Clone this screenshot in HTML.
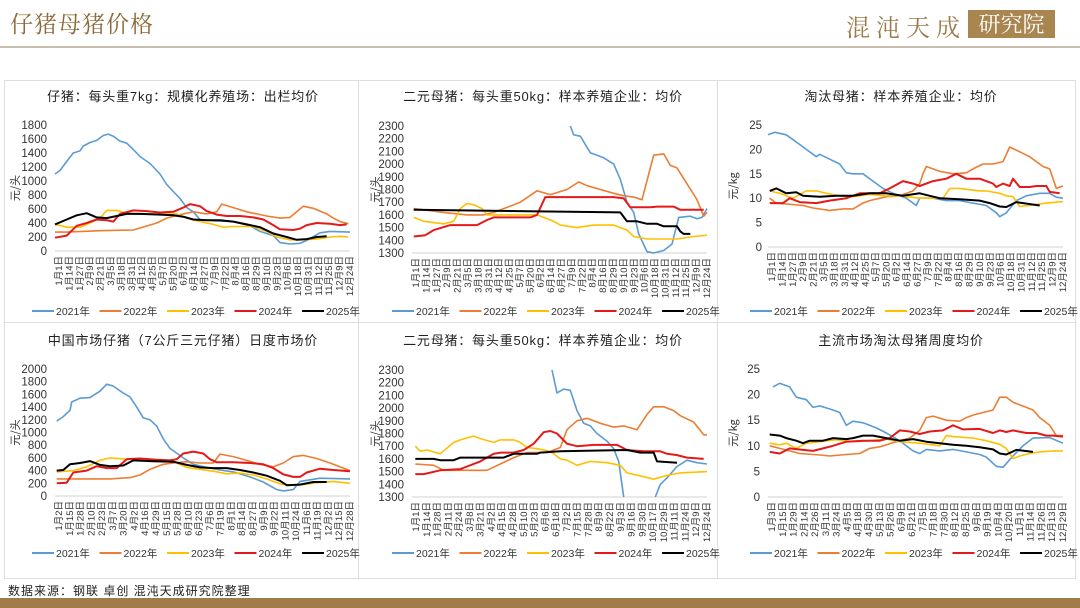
<!DOCTYPE html>
<html><head><meta charset="utf-8">
<style>
html,body{margin:0;padding:0;background:#fff;}
body{width:1080px;height:608px;position:relative;overflow:hidden;font-family:"Liberation Sans","Noto Sans CJK SC",sans-serif;}
#t{position:absolute;left:10px;top:6px;font-size:23px;color:#8a6a38;font-family:"Noto Serif CJK SC","Noto Sans CJK SC",serif;letter-spacing:1px;}
#hl{position:absolute;left:0;top:46px;width:1080px;height:2px;background:#c9beae;}
#logo{position:absolute;left:846px;top:8px;font-size:24px;color:#9b7b4a;font-family:"Noto Serif CJK SC",serif;letter-spacing:6px;}
#logobox{position:absolute;left:968px;top:10px;width:87px;height:28px;background:#a98550;color:#fff;font-size:22px;line-height:28px;text-align:center;font-family:"Noto Serif CJK SC",serif;}
#src{position:absolute;left:8px;top:582px;font-size:12px;color:#222;font-family:"Liberation Sans","Noto Sans CJK SC",sans-serif;letter-spacing:1px;}
#fb{position:absolute;left:0;top:598px;width:1080px;height:10px;background:#a07c48;}
svg{position:absolute;left:0;top:0;}
</style></head><body>
<div id="t">仔猪母猪价格</div>
<div id="hl"></div>
<div id="logo">混沌天成</div>
<div id="logobox">研究院</div>
<svg id="s" width="1080" height="608" xmlns="http://www.w3.org/2000/svg"></svg>
<div id="src">数据来源：钢联 卓创 混沌天成研究院整理</div>
<div id="fb"></div>
<script>
const S=document.getElementById('s');
let h='';
h+='<rect x="4.5" y="80.5" width="1071" height="498" fill="none" stroke="#ddd"/>';
h+='<line x1="358.5" y1="80" x2="358.5" y2="578" stroke="#ddd"/><line x1="717.5" y1="80" x2="717.5" y2="578" stroke="#ddd"/><line x1="4" y1="322.5" x2="1075" y2="322.5" stroke="#ddd"/>';
const C=['#5b9bd5','#ed7d31','#ffc000','#e41a1a','#000'];
const L1=['1月1日','1月14日','1月27日','2月9日','2月21日','3月5日','3月18日','3月31日','4月12日','4月25日','5月7日','5月20日','6月2日','6月14日','6月27日','7月9日','7月22日','8月4日','8月16日','8月29日','9月10日','9月23日','10月6日','10月18日','10月31日','11月12日','11月25日','12月9日','12月24日'];
const L4=['1月2日','1月15日','1月28日','2月10日','2月23日','3月7日','3月20日','4月2日','4月16日','4月29日','5月15日','5月28日','6月10日','6月23日','7月6日','7月19日','8月1日','8月14日','8月27日','9月9日','9月22日','10月11日','10月24日','11月6日','11月19日','12月2日','12月15日','12月28日'];
const L5=['1月1日','1月14日','1月28日','2月11日','2月24日','3月8日','3月21日','4月2日','4月15日','4月28日','5月10日','5月23日','6月6日','6月18日','7月2日','7月15日','7月28日','8月9日','8月22日','9月3日','9月16日','9月30日','10月17日','10月29日','11月11日','11月24日','12月9日','12月24日'];
const L6=['1月3日','1月15日','1月29日','2月14日','2月26日','3月11日','3月24日','4月5日','4月18日','4月30日','5月13日','5月26日','6月9日','6月21日','7月5日','7月18日','7月30日','8月12日','8月25日','9月6日','9月19日','10月4日','10月20日','11月1日','11月14日','11月26日','12月13日','12月29日'];
function P(o){
 const {px,title,ty,x0,x1,yt,yb,mn,mx,st,lab,zx0,zx1,ser,unit,lr,leg}=o;
 h+=`<text x="${px+183}" y="${ty}" font-size="13" fill="#222" text-anchor="middle" letter-spacing="0.8" font-family="Liberation Sans,Noto Sans CJK SC,sans-serif">${title}</text>`;
 const Y=v=>yb-(v-mn)/(mx-mn)*(yb-yt);
 const X=z=>x0+(z-zx0)/(zx1-zx0)*(x1-x0);
 for(let v=mn;v<=mx+1e-9;v+=st){h+=`<text x="${lr}" y="${Y(v)+4}" font-size="11.5" fill="#333" text-anchor="end">${v}</text>`;}
 h+=`<line x1="${x0}" y1="${yb}" x2="${x1}" y2="${yb}" stroke="#d0d0d0"/>`;
 h+=`<text transform="translate(${px+19},${(yt+yb)/2}) rotate(-90)" font-size="11" fill="#333" text-anchor="middle" font-family="Noto Sans CJK SC,sans-serif">${unit}</text>`;
 const n=lab.length;
 lab.forEach((t,i)=>{const x=x0+4+i*(x1-x0-4)/(n-1)+3;h+=`<text transform="translate(${x},${yb+5}) rotate(-90)" font-size="9.5" fill="#333" text-anchor="end" font-family="Liberation Sans,Noto Sans CJK SC,sans-serif">${t}</text>`;});
 ser.forEach((d,k)=>{
  d.split('|').forEach(seg=>{
   const a=seg.trim().split(/\s+/).map(Number);let p=[];
   for(let i=0;i<a.length;i+=2)p.push(X(a[i]).toFixed(1)+','+Y(a[i+1]).toFixed(1));
   h+=`<polyline points="${p.join(' ')}" fill="none" stroke="${C[k]}" stroke-width="${k>=3?2:1.6}" stroke-linejoin="round"/>`;
  });
 });
 for(let k=0;k<5;k++){const lx=px+32+k*67.5;h+=`<line x1="${lx}" y1="${leg}" x2="${lx+22}" y2="${leg}" stroke="${C[k]}" stroke-width="2"/><text x="${lx+24}" y="${leg+4}" font-size="10.5" fill="#333" font-family="Liberation Sans,Noto Sans CJK SC,sans-serif">${2021+k}年</text>`;}
}
P({px:0,title:'仔猪：每头重7kg：规模化养殖场：出栏均价',ty:101,x0:55,x1:350,yt:125,yb:251,mn:0,mx:1800,st:200,lab:L1,zx0:165,zx1:1050,unit:'元/头',lr:47,leg:311,ser:[
'165 1100 180 1150 200 1280 220 1400 240 1430 250 1500 270 1550 290 1580 310 1650 325 1670 340 1640 360 1570 380 1540 400 1450 420 1350 450 1250 480 1100 500 950 520 850 540 750 560 620 580 560 600 450 650 430 700 420 750 360 780 280 820 220 840 120 870 100 900 110 920 150 960 260 990 280 1050 270',
'165 270 200 270 300 290 400 300 470 400 500 470 540 520 580 560 620 530 650 560 665 670 700 620 740 560 800 500 840 470 870 480 890 560 910 640 940 610 980 530 1000 470 1020 420 1045 390',
'165 380 200 340 240 340 260 380 300 470 320 580 350 580 380 540 430 530 480 530 530 530 560 470 590 430 640 380 670 340 700 350 730 350 760 350 800 280 830 200 870 160 900 160 950 170 990 200 1020 210 1045 200',
'165 190 200 220 230 360 260 400 290 450 320 440 340 420 360 530 400 580 440 570 480 550 520 560 550 620 570 670 600 640 620 570 650 520 680 500 720 500 760 480 790 450 820 370 840 310 880 300 900 320 920 370 950 400 990 390 1020 370 1040 380',
'165 380 200 450 230 510 260 540 290 480 320 470 350 500 380 530 420 530 480 520 520 510 550 490 580 450 620 440 660 440 700 420 740 380 780 340 820 250 860 200 890 160 920 170 950 200 980 210']});
P({px:360,title:'二元母猪：每头重50kg：样本养殖企业：均价',ty:101,x0:412,x1:707,yt:126,yb:253,mn:1300,mx:2300,st:100,lab:L1,zx0:155,zx1:1040,unit:'元/头',lr:404,leg:311,ser:[
'630 2300 640 2230 660 2220 690 2090 730 2050 760 2000 780 1880 800 1700 820 1620 835 1450 860 1310 880 1300 910 1320 935 1370 955 1580 990 1590 1010 1570 1025 1580 1040 1650',
'160 1650 250 1620 320 1600 370 1600 400 1620 430 1650 480 1700 530 1790 570 1760 620 1800 655 1860 680 1830 720 1800 760 1770 790 1750 820 1740 845 1720 880 2070 910 2080 930 1990 950 1970 1010 1720 1030 1590 1040 1620',
'160 1580 190 1550 250 1530 280 1550 300 1650 320 1690 340 1680 365 1650 380 1600 400 1600 450 1600 530 1600 580 1550 600 1520 650 1500 700 1520 760 1520 800 1480 820 1430 860 1410 950 1410 1000 1430 1040 1440',
'160 1430 195 1440 220 1480 270 1520 350 1520 380 1560 400 1580 510 1580 530 1600 555 1740 760 1740 790 1730 810 1660 870 1660 890 1665 940 1665 960 1640 1030 1640',
'160 1640 780 1620 800 1550 830 1550 860 1530 890 1530 910 1510 950 1510 960 1470 970 1450 990 1450']});
P({px:718,title:'淘汰母猪：样本养殖企业：均价',ty:101,x0:768,x1:1063,yt:125,yb:247,mn:0,mx:25,st:5,lab:L1,zx0:145,zx1:1030,unit:'元/kg',lr:762,leg:311,ser:[
'145 23 165 23.5 200 23 240 21 260 20 290 18.5 300 19 330 18 360 17 380 15.2 400 15 430 15 460 13.5 490 12 520 11 560 10 590 8.5 600 10 640 10 680 9.5 720 9.5 760 9 800 8.5 830 7 840 6.2 860 7 890 9.5 920 10.5 960 11 990 11 1010 10.2 1030 10',
'150 10 170 9 250 8.5 280 8 330 7.5 370 7.8 400 7.8 430 9 450 9.5 500 10.3 540 10.5 580 11.5 600 13 610 15 620 16.5 640 16 660 15.5 700 15 740 15.2 760 16 790 17 820 17 850 17.5 870 20.5 900 19.5 930 18.5 950 17.5 970 16.5 990 16 1010 12 1030 12.5',
'150 11.5 180 11 220 10 260 11.5 290 11.5 320 11 360 10.5 400 10.3 450 10.8 500 10.5 540 10.5 600 10 650 10 670 10 690 12 720 12 780 11.5 800 11.5 840 11 860 10.5 880 10.3 900 8.3 930 8.5 980 9 1030 9.3',
'150 9 190 9 210 10 240 9.2 290 9 330 9.5 380 10 420 11 480 11 510 12 550 13.5 580 13 600 12.5 640 13.5 680 14 710 15 740 14 780 14 820 13 830 12.3 850 13 870 12.5 880 14 900 12.3 930 12.3 950 12.5 980 12.5 990 11.3 1020 11',
'150 11.5 170 12 200 11 230 11.2 250 10.5 300 10.3 350 10.5 400 10.5 450 11 500 11 550 10.5 600 11 630 10.5 660 10 720 9.8 780 9.5 810 9 840 8.3 860 8.2 890 9.2 910 9 960 8.5']});
P({px:0,title:'中国市场仔猪（7公斤三元仔猪）日度市场价',ty:345,x0:55,x1:350,yt:369,yb:496,mn:0,mx:2000,st:200,lab:L4,zx0:165,zx1:1050,unit:'元/头',lr:47,leg:553,ser:[
'170 1180 190 1250 210 1350 215 1480 240 1540 270 1550 300 1650 320 1760 340 1730 370 1620 390 1560 410 1400 430 1230 450 1200 470 1100 490 900 510 750 550 600 580 500 620 450 660 410 700 380 750 300 790 220 830 100 850 80 880 100 900 230 960 280 1050 270',
'170 270 250 270 330 270 390 290 420 330 450 420 490 500 520 520 560 540 600 520 640 520 660 660 700 620 740 560 780 500 820 460 850 520 880 620 910 640 950 590 990 520 1050 400',
'170 380 220 400 260 460 300 560 330 600 380 580 420 570 470 540 520 540 560 450 600 420 640 390 680 350 720 360 760 330 800 270 840 190 880 170 910 180 950 210 1000 230 1050 200',
'170 200 200 210 220 370 260 400 290 470 320 440 350 440 380 580 420 590 470 570 510 560 530 580 550 670 580 700 610 670 630 580 650 530 700 530 750 520 790 500 820 440 850 340 880 300 900 300 920 370 960 430 1000 410 1050 390',
'170 400 190 410 210 500 240 520 270 550 300 490 330 470 370 480 400 560 450 550 520 540 560 490 600 450 640 440 680 440 720 410 760 370 800 320 840 240 860 170 900 180 940 220 980 220']});
P({px:360,title:'二元母猪：每头重50kg：样本养殖企业：均价',ty:345,x0:412,x1:707,yt:370,yb:497,mn:1300,mx:2300,st:100,lab:L5,zx0:155,zx1:1040,unit:'元/头',lr:404,leg:553,ser:[
'575 2300 590 2120 610 2150 630 2140 650 1980 670 1880 690 1860 710 1800 740 1740 760 1680 775 1580 790 1300|885 1300 900 1400 920 1450 950 1540 980 1590 1010 1570 1040 1560',
'165 1560 220 1550 250 1510 300 1510 380 1510 420 1560 460 1610 500 1650 560 1650 600 1690 620 1830 650 1900 680 1920 720 1880 760 1850 790 1860 830 1830 860 1950 880 2010 910 2010 940 1980 960 1940 1000 1890 1030 1790 1040 1790',
'165 1700 180 1660 200 1670 240 1640 280 1730 300 1750 340 1780 360 1760 400 1730 420 1750 460 1750 480 1730 500 1690 530 1680 570 1660 600 1600 620 1590 650 1550 690 1580 740 1570 780 1550 800 1490 850 1460 880 1440 920 1470 960 1490 1040 1500',
'165 1480 190 1480 240 1510 300 1520 320 1540 360 1580 400 1640 420 1650 460 1650 490 1670 520 1720 550 1810 570 1820 590 1800 620 1720 650 1700 700 1710 770 1710 800 1670 850 1660 900 1660 920 1640 950 1630 980 1610 1030 1600',
'165 1600 220 1600 240 1590 280 1590 300 1610 430 1610 460 1640 530 1640 540 1650 600 1660 800 1670 840 1650 880 1650 890 1580 950 1570']});
P({px:718,title:'主流市场淘汰母猪周度均价',ty:345,x0:768,x1:1063,yt:369,yb:497,mn:0,mx:25,st:5,lab:L6,zx0:145,zx1:1030,unit:'元/kg',lr:760,leg:553,ser:[
'160 21.5 180 22.2 210 21.5 230 19.5 260 19 280 17.5 300 17.8 340 17 360 16.5 380 14 400 14.8 430 14.5 470 13.5 500 12.5 540 11 580 9 600 8.5 620 9.3 660 9 700 9.3 740 8.8 780 8.3 800 7.8 830 6 850 5.8 880 8 910 10 940 11.5 990 11.6 1030 10.5',
'150 10 180 9.5 240 8.5 300 8.2 330 8 380 8.3 420 8.5 450 9.5 480 9.8 540 11 570 11.5 600 13 620 15.5 640 15.8 680 15 720 14.8 740 15.5 760 16 790 16.5 820 17 840 19.5 860 19.5 880 18.5 920 17.5 940 17 960 15.5 990 14 1010 12 1030 12',
'150 10.5 180 10.2 200 10.5 230 9.5 260 10.5 300 10.8 350 11.2 400 10.8 450 11 500 11.3 540 10.8 600 10.5 660 10 680 12 700 11.8 760 11.5 800 11 840 10.3 860 9.5 880 7.5 900 8 930 8.5 960 8.8 1000 9 1030 9',
'150 8.8 180 8.5 210 9.5 250 9.2 280 9 310 9.5 340 10 380 10.8 430 11 480 11 510 11.5 540 13 570 12.8 600 12.3 630 12.8 670 13 700 14 730 13.2 780 13.3 820 12.5 840 13 860 12.7 880 13 920 12.5 950 12.5 980 12 1000 12 1030 11.8',
'150 12.2 180 12 200 11.5 230 11 250 10.5 270 11 310 11 340 11.5 380 11.3 400 11.5 430 12 460 12 500 11.5 540 11 580 11.3 620 10.8 660 10.5 700 10.2 740 10 780 9.7 820 9.3 840 8.5 860 8.3 890 9.2 940 8.8']});
S.innerHTML=h;
</script>
</body></html>
